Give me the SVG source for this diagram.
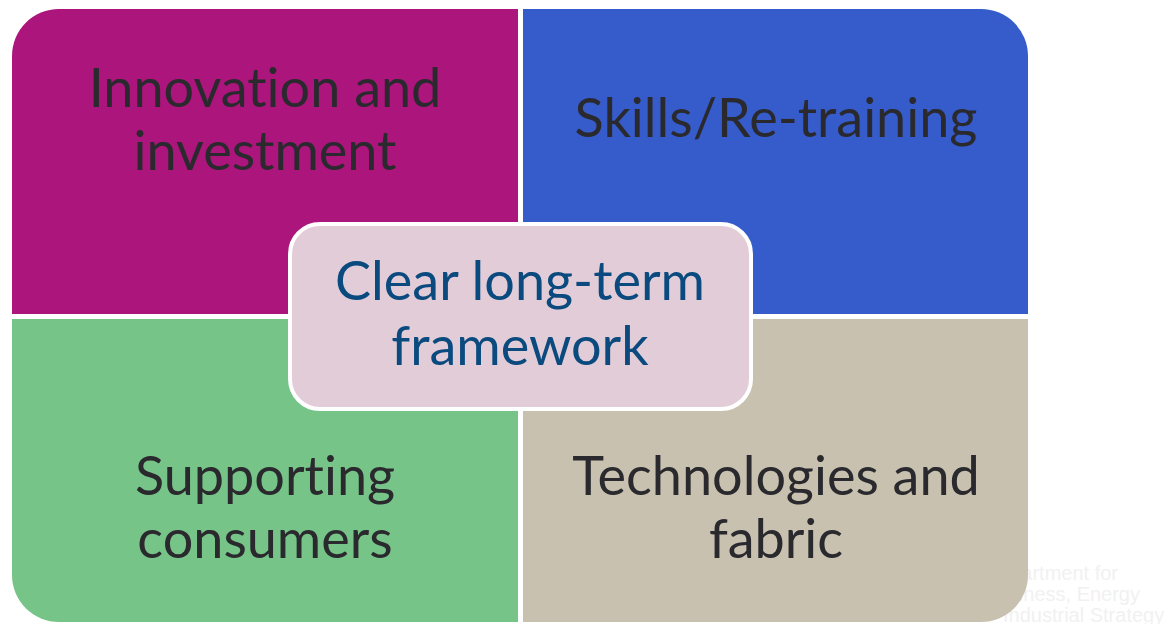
<svg xmlns="http://www.w3.org/2000/svg" width="1167" height="624" viewBox="0 0 1167 624">
<style>
.lbl{font-family:Lato,"Open Sans","Liberation Sans",sans-serif;font-size:54px;fill:#2a2a2e;text-anchor:middle;font-variant-ligatures:none}
.ctr{font-family:Lato,"Open Sans","Liberation Sans",sans-serif;font-size:54px;fill:#0a4a7e;text-anchor:middle;font-variant-ligatures:none}
.faint{font-family:"Liberation Sans",Arial,sans-serif;font-size:20px;fill:#f1f1f1}
</style>
<rect width="1167" height="624" fill="#ffffff"/>
<g id="watermark">
<text class="faint" x="1118" y="580" text-anchor="end">Department for</text>
<text class="faint" x="1140" y="601" text-anchor="end">Business, Energy</text>
<text class="faint" x="1003" y="622">Industrial Strategy</text>
</g>
<g id="innovation">
<path d="M12,314 V56 A47,47 0 0 1 59,9 H518 V314 Z" fill="#ab157c"/>
<text class="lbl" x="265" y="107">Innovation and</text>
<text class="lbl" x="265" y="170">investment</text>
</g>
<g id="skills">
<path d="M523,9 H981 A47,47 0 0 1 1028,56 V314 H523 Z" fill="#365ccb"/>
<text class="lbl" x="776" y="137">Skills/Re-training</text>
</g>
<g id="consumers">
<path d="M12,319 H518 V622 H59 A47,47 0 0 1 12,575 Z" fill="#77c489"/>
<text class="lbl" x="265" y="495">Supporting</text>
<text class="lbl" x="265" y="558">consumers</text>
</g>
<g id="technologies">
<path d="M523,319 H1028 V575 A47,47 0 0 1 981,622 H523 Z" fill="#c9c1af"/>
<text class="lbl" x="776" y="495">Technologies and</text>
<text class="lbl" x="776" y="558">fabric</text>
</g>
<g id="framework">
<rect x="290" y="224" width="461" height="185" rx="30" ry="30" fill="#e2ccd8" stroke="#ffffff" stroke-width="4"/>
<text class="ctr" x="520" y="300">Clear long-term</text>
<text class="ctr" x="520" y="365">framework</text>
</g>
<g id="connectors"/>
</svg>
